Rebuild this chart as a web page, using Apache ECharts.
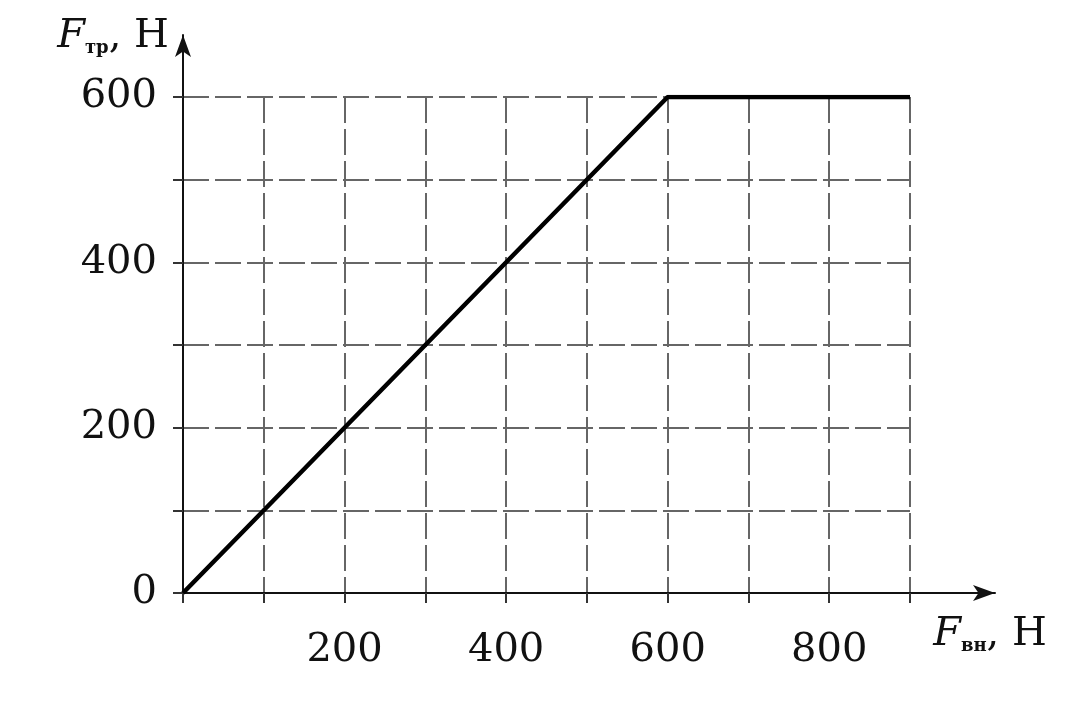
<!DOCTYPE html>
<html><head><meta charset="utf-8">
<script src="https://cdn.jsdelivr.net/npm/echarts@6/dist/echarts.min.js"></script>
<style>html,body{margin:0;padding:0;background:#fff}#c{width:1080px;height:718px}</style>
</head><body><div id="c"></div>
<script>
const forceExt = [0, 600, 900];   // F_вн, Н
const forceFr = [0, 600, 600];    // F_тр, Н
const xTicks = [200, 400, 600, 800];
const yTicks = [0, 200, 400, 600];

const chart = echarts.init(document.getElementById('c'));
const font = 'DejaVu Serif';
const lbl = {color:'#111', fontFamily:font, fontSize:40};
chart.setOption({
  animation:false,
  backgroundColor:'#fff',
  grid:[
    {left:183, right:170, top:97, bottom:125},
    {left:183, right:85, top:35, bottom:125}
  ],
  xAxis:[
    {type:'value', gridIndex:0, min:0, max:900, interval:100,
     axisLine:{show:false}, axisTick:{show:true, length:10, inside:false, lineStyle:{color:'#333', width:2}},
     splitLine:{show:true, lineStyle:{color:'#666', width:2, type:[26,6]}},
     axisLabel:{...lbl, margin:38, formatter:v=>xTicks.includes(v)?String(v):''}},
    {type:'value', gridIndex:1, min:0, max:1, axisLabel:{show:false}, axisTick:{show:false}, splitLine:{show:false},
     axisLine:{show:true, symbol:['none','arrow'], symbolSize:[12,22], lineStyle:{color:'#111', width:2}},
     name:'{f|F}{s|вн}{n|, Н}', nameLocation:'end', nameGap:-5,
     nameTextStyle:{align:'center', verticalAlign:'top', padding:[22,0,0,0],
       rich:{f:{fontFamily:font, fontStyle:'italic', fontSize:40, color:'#111'},
             s:{fontFamily:font, fontSize:18, fontWeight:'bold', color:'#111', verticalAlign:'bottom', padding:[18,0,0,0]},
             n:{fontFamily:font, fontSize:40, color:'#111'}}}}
  ],
  yAxis:[
    {type:'value', gridIndex:0, min:0, max:600, interval:100,
     axisLine:{show:false}, axisTick:{show:true, length:10, lineStyle:{color:'#333', width:2}},
     splitLine:{show:true, lineStyle:{color:'#666', width:2, type:[26,6]}},
     axisLabel:{...lbl, margin:26, formatter:v=>yTicks.includes(v)?String(v):''}},
    {type:'value', gridIndex:1, min:0, max:1, axisLabel:{show:false}, axisTick:{show:false}, splitLine:{show:false},
     axisLine:{show:true, symbol:['none','arrow'], symbolSize:[12,22], lineStyle:{color:'#111', width:2}},
     name:'{f|F}{s|тр}{n|, Н}', nameLocation:'end', nameGap:-2,
     nameTextStyle:{align:'right', verticalAlign:'middle', padding:[0,14,0,0],
       rich:{f:{fontFamily:font, fontStyle:'italic', fontSize:40, color:'#111'},
             s:{fontFamily:font, fontSize:18, fontWeight:'bold', color:'#111', verticalAlign:'bottom', padding:[18,0,0,0]},
             n:{fontFamily:font, fontSize:40, color:'#111'}}}}
  ],
  series:[{
    type:'line', xAxisIndex:0, yAxisIndex:0, symbol:'none',
    data: forceExt.map((x,i)=>[x, forceFr[i]]),
    lineStyle:{color:'#000', width:4.5}
  }]
});
</script></body></html>
